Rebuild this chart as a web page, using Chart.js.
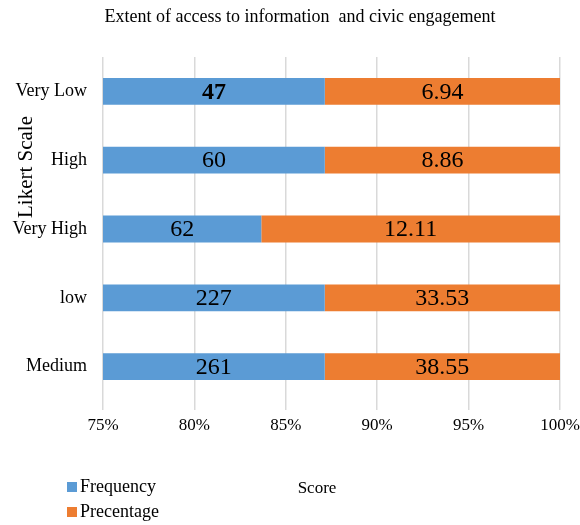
<!DOCTYPE html>
<html>
<head>
<meta charset="utf-8">
<script src="https://cdn.jsdelivr.net/npm/chart.js@4"></script>
<style>
  html, body { margin: 0; padding: 0; background: #fff; }
  #wrap { width: 580px; height: 525px; position: relative; }
</style>
</head>
<body>
<div id="wrap"><canvas id="chart" width="580" height="525"></canvas></div>
<script>
// --- data ---
const categories = ['Very Low', 'High', 'Very High', 'low', 'Medium'];
const frequency  = [47, 60, 62, 227, 261];
const percentage = [6.94, 8.86, 12.11, 33.53, 38.55];
const xTicks     = [75, 80, 85, 90, 95, 100];

const SERIF = "'Liberation Serif', 'Times New Roman', serif";
const BLUE = '#5b9bd5';
const ORANGE = '#ed7d31';

// 100% stacked: each row is split by its own total
const totals = frequency.map((f, i) => f + percentage[i]);
const freqShare = frequency.map((f, i) => f / totals[i] * 100);
const pctShare  = percentage.map((p, i) => p / totals[i] * 100);

// writes the raw numbers in the middle of the visible part of each segment
const barLabels = {
    id: 'barLabels',
    afterDatasetsDraw(chart) {
        const { ctx, chartArea } = chart;
        ctx.save();
        ctx.fillStyle = '#000';
        ctx.textAlign = 'center';
        ctx.textBaseline = 'middle';
        chart.data.datasets.forEach((ds, di) => {
            chart.getDatasetMeta(di).data.forEach((el, i) => {
                const l = Math.max(Math.min(el.x, el.base), chartArea.left);
                const r = Math.min(Math.max(el.x, el.base), chartArea.right);
                // the source had only the first frequency label in bold
                const bold = di === 0 && i === 0;
                ctx.font = (bold ? 'bold ' : '') + '24px ' + SERIF;
                ctx.fillText(String(ds.raw[i]), (l + r) / 2, el.y + 1);
            });
        });
        ctx.restore();
    }
};

// title, axis titles and legend sit in odd places, so draw them by hand
const extras = {
    id: 'extras',
    afterDraw(chart) {
        const ctx = chart.ctx;
        ctx.save();
        ctx.fillStyle = '#000';
        ctx.textBaseline = 'middle';

        ctx.textAlign = 'center';
        ctx.font = '18px ' + SERIF;
        ctx.fillText('Extent of access to information  and civic engagement', 300, 17);

        ctx.font = '17px ' + SERIF;
        ctx.fillText('Score', 317, 489);

        ctx.save();
        ctx.translate(26, 167);
        ctx.rotate(-Math.PI / 2);
        ctx.font = '21px ' + SERIF;
        ctx.fillText('Likert Scale', 0, 0);
        ctx.restore();

        ctx.textAlign = 'left';
        ctx.font = '18px ' + SERIF;
        chart.data.datasets.forEach((ds, i) => {
            const y = 487 + i * 25;
            ctx.fillStyle = ds.backgroundColor;
            ctx.fillRect(67, y - 5, 10, 10);
            ctx.fillStyle = '#000';
            ctx.fillText(ds.label, 80, y);
        });
        ctx.restore();
    }
};

new Chart(document.getElementById('chart'), {
    type: 'bar',
    data: {
        labels: categories,
        datasets: [
            { label: 'Frequency', data: freqShare, raw: frequency, backgroundColor: BLUE },
            { label: 'Precentage', data: pctShare, raw: percentage, backgroundColor: ORANGE }
        ]
    },
    options: {
        indexAxis: 'y',
        responsive: false,
        animation: false,
        layout: { padding: { top: 57, right: 20, left: 0, bottom: 0 } },
        datasets: { bar: { categoryPercentage: 1, barPercentage: 0.39 } },
        scales: {
            x: {
                stacked: true,
                min: 75,
                max: 100,
                afterBuildTicks: s => { s.ticks = xTicks.map(v => ({ value: v })); },
                afterFit: s => { s.height = 124; s.paddingLeft = 0; s.paddingRight = 0; },
                grid: { color: '#d9d9d9', lineWidth: 1.5, drawTicks: true, tickLength: 9, tickColor: '#d9d9d9' },
                border: { display: false },
                ticks: {
                    padding: 5,
                    maxRotation: 0,
                    color: '#000',
                    font: { family: SERIF, size: 17 },
                    callback: v => v + '%'
                }
            },
            y: {
                stacked: true,
                afterFit: s => { s.width = 103; },
                grid: { display: false },
                border: { display: false },
                ticks: {
                    padding: 8,
                    color: '#000',
                    font: { family: SERIF, size: 18 }
                }
            }
        },
        plugins: {
            legend: { display: false },
            title: { display: false },
            tooltip: { enabled: false }
        }
    },
    plugins: [barLabels, extras]
});
</script>
</body>
</html>
